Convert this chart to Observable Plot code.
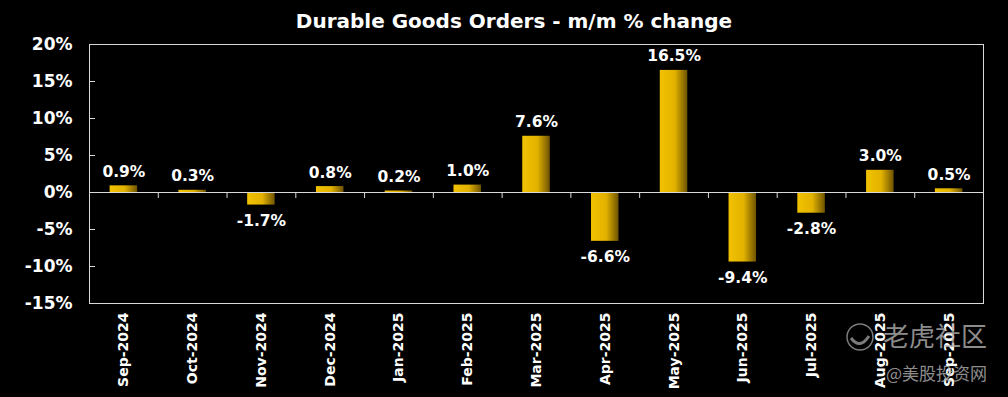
<!DOCTYPE html>
<html><head><meta charset="utf-8">
<script src="https://cdn.jsdelivr.net/npm/d3@7"></script>
<script src="https://cdn.jsdelivr.net/npm/@observablehq/plot@0.6"></script>
<style>
html,body{margin:0;padding:0;background:#000;}
#chart{width:1008px;height:397px;position:relative;}
</style>
</head><body><div id="chart"></div>
<script>
const title = "Durable Goods Orders - m/m % change";
const months = ["Sep-2024","Oct-2024","Nov-2024","Dec-2024","Jan-2025","Feb-2025","Mar-2025","Apr-2025","May-2025","Jun-2025","Jul-2025","Aug-2025","Sep-2025"];
const changes = [0.9, 0.3, -1.7, 0.8, 0.2, 1.0, 7.6, -6.6, 16.5, -9.4, -2.8, 3.0, 0.5];
const yTicks = [-15, -10, -5, 0, 5, 10, 15, 20];

const data = months.map((m, i) => ({month: m, value: changes[i]}));
const W = 1008, H = 397, ML = 89, MR = 25, MT = 44, MB = 94;
const step = (W - ML - MR) / months.length;
const font = "'DejaVu Sans', sans-serif";

const chart = Plot.plot({
  width: W, height: H,
  marginLeft: ML, marginRight: MR, marginTop: MT, marginBottom: MB,
  style: {background: "#000", color: "#fff", fontFamily: font},
  x: {domain: months, paddingInner: 0.6, paddingOuter: 0.3, align: 0.5, round: false},
  y: {domain: [-15, 20]},
  marks: [
    Plot.frame({stroke: "#d9d9d9", strokeWidth: 1}),
    Plot.barY(data, {x: "month", y: "value", fill: "url(#gold)"}),
    Plot.ruleY([0], {stroke: "#d9d9d9", strokeWidth: 1.2}),
    Plot.ruleX(months.slice(1), {x: d => d, y1: 0, y2: 0, insetBottom: -6, dx: -step / 2, stroke: "#d9d9d9"}),
    Plot.text(data.filter(d => d.value >= 0), {x: "month", y: "value", text: d => d.value.toFixed(1) + "%", dy: -14, fill: "#fff", fontSize: 15.5, fontWeight: "bold"}),
    Plot.text(data.filter(d => d.value < 0), {x: "month", y: "value", text: d => d.value.toFixed(1) + "%", dy: 16, fill: "#fff", fontSize: 15.5, fontWeight: "bold"}),
    Plot.axisY({ticks: yTicks, tickFormat: d => d + "%", tickSize: -6, tickPadding: 23, stroke: "#d9d9d9", fill: "#fff", fontSize: 17, fontWeight: "bold", label: null}),
    Plot.axisX({tickSize: 0, tickPadding: 9, tickRotate: -90, fill: "#fff", fontSize: 14, fontWeight: "bold", label: null})
  ]
});
document.getElementById("chart").appendChild(chart);

const svg = d3.select(chart);
const defs = svg.insert("defs", ":first-child");
const g = defs.append("linearGradient").attr("id", "gold").attr("x1", "0").attr("x2", "1").attr("y1", "0").attr("y2", "0");
g.append("stop").attr("offset", "0%").attr("stop-color", "#f2c200");
g.append("stop").attr("offset", "55%").attr("stop-color", "#e2b200");
g.append("stop").attr("offset", "100%").attr("stop-color", "#6e5300");

svg.append("text").attr("x", 514).attr("y", 28).attr("text-anchor", "middle")
  .attr("fill", "#fff").attr("font-size", 20).attr("font-weight", "bold")
  .attr("font-family", font).text(title);

// watermark
const wm = svg.append("g").attr("opacity", 0.8).attr("text-anchor", "start");
wm.append("circle").attr("cx", 860).attr("cy", 337).attr("r", 13).attr("fill", "none").attr("stroke", "#9a9a9a").attr("stroke-width", 1.5);
wm.append("path").attr("d", "M851,338 Q860,350 869,336").attr("fill", "none").attr("stroke", "#9a9a9a").attr("stroke-width", 3);
wm.append("text").attr("x", 883).attr("y", 346).attr("text-anchor", "start").attr("fill", "#b0b0b0").attr("font-size", 26)
  .attr("font-family", "'Noto Sans CJK SC', sans-serif").text("老虎社区");
wm.append("text").attr("x", 886).attr("y", 380).attr("text-anchor", "start").attr("fill", "#b0b0b0").attr("font-size", 17)
  .attr("font-family", "'Noto Sans CJK SC', sans-serif").text("@美股投资网");
</script>
</body></html>
